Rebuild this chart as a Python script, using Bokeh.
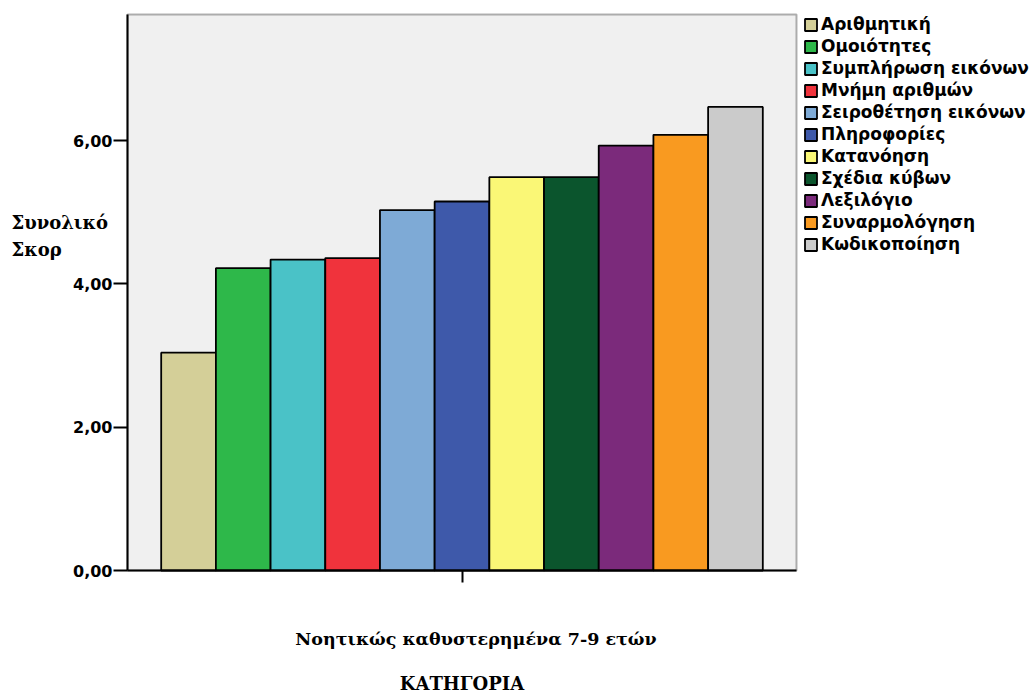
from bokeh.plotting import figure
from bokeh.models import (ColumnDataSource, Range1d, FixedTicker, Legend,
                          LegendItem, Label, BoxAnnotation)
from bokeh.embed import file_html
from bokeh.resources import INLINE

# WISC subtest mean total scores, mentally retarded children aged 7-9
subtests = ["Αριθμητική", "Ομοιότητες", "Συμπλήρωση εικόνων", "Μνήμη αριθμών",
            "Σειροθέτηση εικόνων", "Πληροφορίες", "Κατανόηση", "Σχέδια κύβων",
            "Λεξιλόγιο", "Συναρμολόγηση", "Κωδικοποίηση"]
scores = [3.04, 4.22, 4.34, 4.36, 5.03, 5.15, 5.49, 5.49, 5.93, 6.08, 6.47]
colors = ["#D4CF98", "#2EB84A", "#4AC2C7", "#F0333C", "#7EAAD6", "#3E59AA",
          "#FAF776", "#0B552D", "#7B2A7B", "#F99A20", "#CBCBCB"]
group_label = "Νοητικώς καθυστερημένα 7-9 ετών"
x_title = "ΚΑΤΗΓΟΡΙΑ"
y_title = ["Συνολικό", "Σκορ"]
y_ticks = [0, 2, 4, 6]
y_tick_labels = ["0,00", "2,00", "4,00", "6,00"]

W, H = 1035, 693
n = len(subtests)
pos = list(range(n))
source = ColumnDataSource(dict(x=pos, top=scores, name=subtests, color=colors))

# plot area in data units, and its margins on the page in pixels
pad = 0.616
x_lo, x_hi = -0.5 - pad, n - 0.5 + pad
y_lo, y_hi = 0.0, 7.76
m_left, m_right, m_top, m_bottom = 127, 239, 14, 123
sx = (W - m_left - m_right) / (x_hi - x_lo)
sy = (H - m_top - m_bottom) / (y_hi - y_lo)

# the frame covers the whole page; axes sit at fixed positions inside it
p = figure(width=W, height=H, output_backend="svg", toolbar_location=None,
           x_range=Range1d(x_lo - m_left / sx, x_hi + m_right / sx),
           y_range=Range1d(y_lo - m_bottom / sy, y_hi + m_top / sy),
           min_border=0)
p.background_fill_color = "white"
p.border_fill_color = "white"
p.outline_line_color = None
p.grid.visible = False

p.add_layout(BoxAnnotation(left=x_lo, right=x_hi, bottom=y_lo, top=y_hi,
                           fill_color="#F0F0F0", fill_alpha=1.0,
                           line_color="black", line_width=2, level="underlay"))

bars = p.vbar(x="x", top="top", width=1.0, bottom=0, source=source,
              fill_color="color", line_color="black", line_width=1.8)

# y axis
ya = p.yaxis[0]
ya.fixed_location = x_lo
ya.bounds = (y_lo, y_hi)
ya.ticker = FixedTicker(ticks=y_ticks)
ya.major_label_overrides = {t: s for t, s in zip(y_ticks, y_tick_labels)}
ya.major_label_text_font = "DejaVu Sans"
ya.major_label_text_font_style = "bold"
ya.major_label_text_font_size = "16px"
ya.major_label_text_color = "black"
ya.major_tick_out = 14
ya.major_tick_in = 0
ya.major_tick_line_width = 2
ya.minor_tick_line_color = None
ya.axis_line_width = 2
ya.major_label_standoff = 1

# x axis: one group tick in the middle, its name set just below
mid = (n - 1) / 2
xa = p.xaxis[0]
xa.fixed_location = y_lo
xa.bounds = (x_lo, x_hi)
xa.ticker = FixedTicker(ticks=[mid])
xa.major_label_overrides = {mid: ""}
xa.major_tick_out = 12
xa.major_tick_in = 0
xa.major_tick_line_width = 2
xa.minor_tick_line_color = None
xa.axis_line_width = 2

p.add_layout(Label(x=mid, y=H - 638, x_offset=14, x_units="data", y_units="screen",
                   text=group_label, text_align="center", text_baseline="alphabetic",
                   text_font="DejaVu Serif", text_font_style="bold",
                   text_font_size="17.5px", text_color="black"))

p.add_layout(Label(x=mid, y=10, x_units="data", y_units="screen", text=x_title,
                   text_align="center", text_baseline="middle",
                   text_font="DejaVu Serif", text_font_style="bold",
                   text_font_size="18px", text_color="black"))

# y title, horizontal on two lines
for i, word in enumerate(y_title):
    p.add_layout(Label(x=11, y=H - 222 - i * 27, x_units="screen", y_units="screen",
                       text=word, text_baseline="alphabetic",
                       text_font="DejaVu Serif", text_font_style="bold",
                       text_font_size="18px", text_color="black"))

items = [LegendItem(label=s, renderers=[bars], index=i) for i, s in enumerate(subtests)]
legend = Legend(items=items, location=(W - m_right + 7, H - m_top - 240),
                orientation="vertical", margin=0, padding=0, spacing=2,
                label_height=20, glyph_height=15, glyph_width=15, label_standoff=3,
                label_text_font="DejaVu Sans", label_text_font_style="bold",
                label_text_font_size="17px",
                label_text_color="black", border_line_color=None,
                background_fill_alpha=0)
p.add_layout(legend)

open("out.html", "w").write(file_html(p, INLINE))
